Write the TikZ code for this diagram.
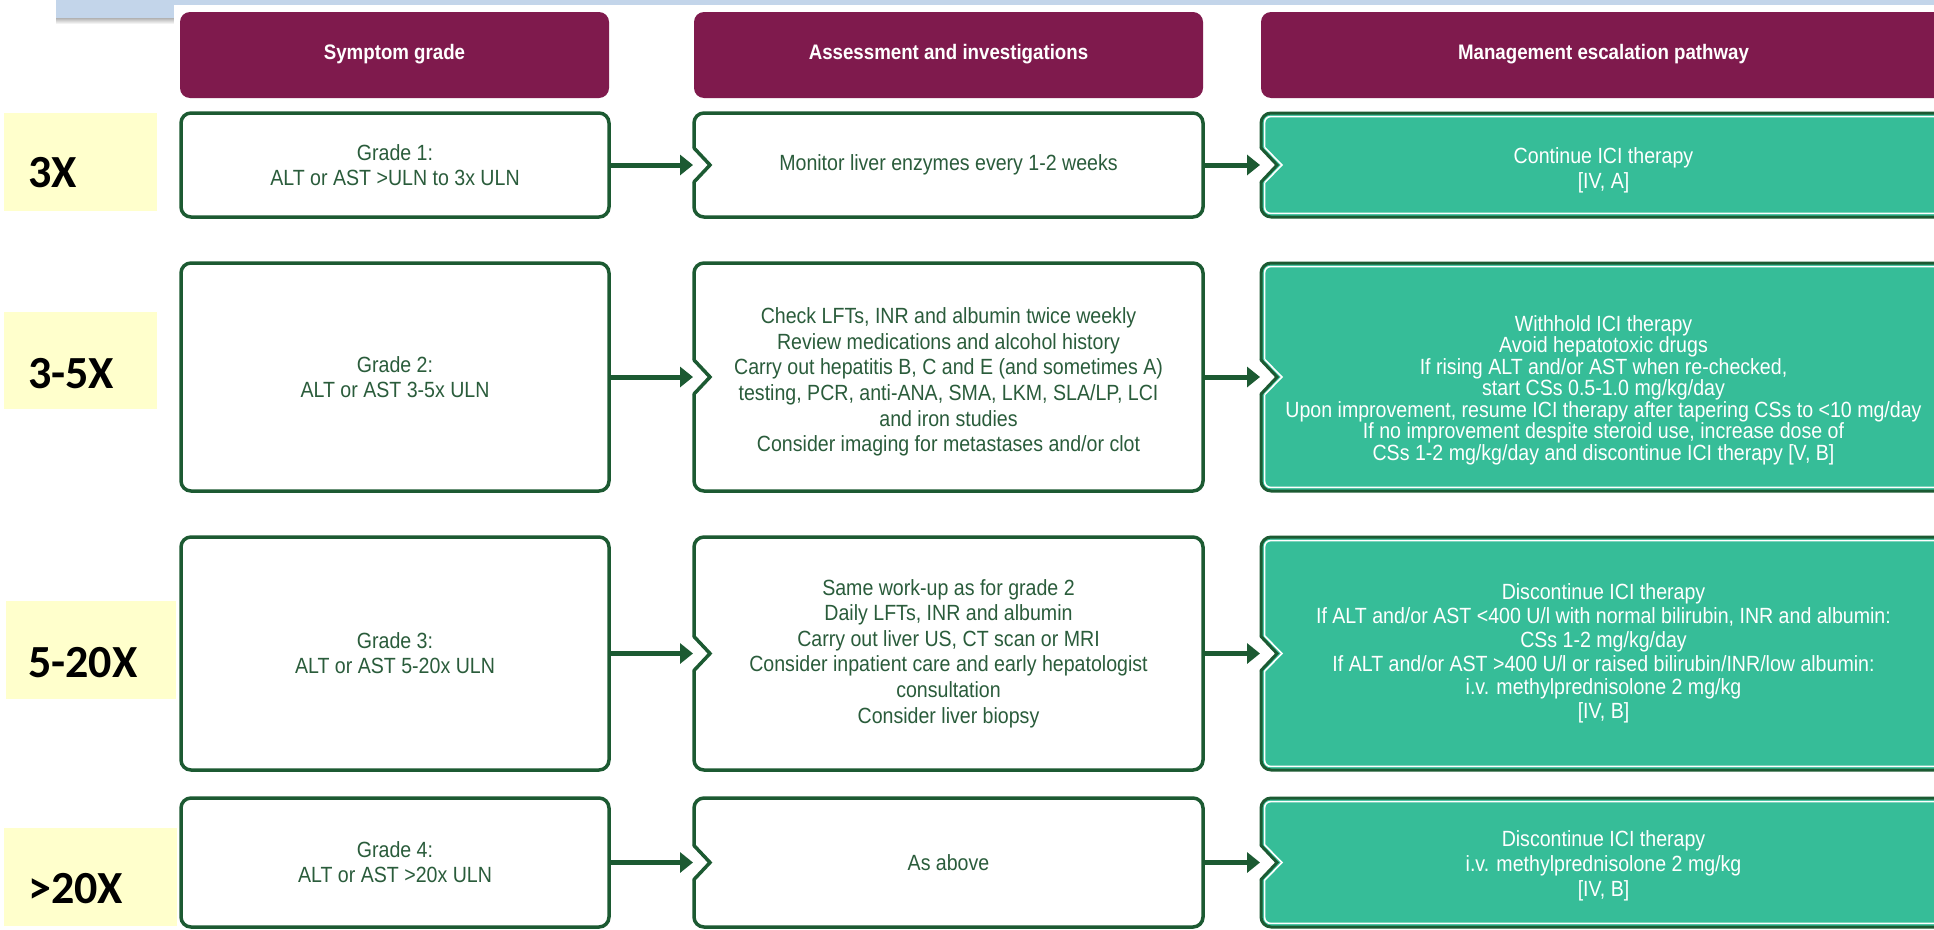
\documentclass[tikz,border=0pt]{standalone}
\usepackage{fontspec}
\setmainfont{Liberation Sans}[FakeStretch=0.89]
\newfontfamily\tagfont{Carlito}
\usetikzlibrary{arrows.meta}
\pgfdeclarelayer{base}
\pgfdeclarelayer{fills}
\pgfsetlayers{base,fills,main}

\definecolor{hdrmaroon}{HTML}{7F1A4D}
\definecolor{boxgreen}{HTML}{1C5A32}
\definecolor{boxtext}{HTML}{2A5C3B}
\definecolor{mgmtteal}{HTML}{36BD98}
\definecolor{tagyellow}{HTML}{FFFFCC}
\definecolor{barblue}{HTML}{C3D5EA}

% rounded frame with a V-notch in its left side
% #1 node, #2 fill colour, #3 line style
\newcommand\notchbox[3]{%
  \fill[#2, rounded corners=10pt] (#1.north west) rectangle (#1.south east);
  \fill[white] ([shift={(-0.5,-17)}]#1.west) -- ([shift={(16,0)}]#1.west)
    -- ([shift={(-0.5,17)}]#1.west) -- cycle;
  \draw[#3, rounded corners=10pt] ([shift={(0,17)}]#1.west)
    -- (#1.south west) -- (#1.south east)
    -- (#1.north east) -- (#1.north west)
    -- ([shift={(0,-17)}]#1.west);
  \draw[#3, line join=miter] ([shift={(0,-17)}]#1.west)
    -- ([shift={(16,0)}]#1.west) -- ([shift={(0,17)}]#1.west);}

% white work-up frame and teal management frame around a named node
\newcommand\workframe[1]{%
  \begin{pgfonlayer}{fills}
    \notchbox{#1}{white}{draw=boxgreen, line width=3.5pt, line cap=round}
  \end{pgfonlayer}}
\newcommand\mgmtframe[1]{%
  \begin{pgfonlayer}{fills}
    \notchbox{#1}{mgmtteal}{draw=boxgreen, line width=3pt, line cap=round}
    \draw[white, line width=1.6pt, rounded corners=6pt]
      ([shift={(3.6,17.6)}]#1.west)
      -- ([shift={(3.6,-3.6)}]#1.south west)
      -- ([shift={(-3.6,-3.6)}]#1.south east)
      -- ([shift={(-3.6,3.6)}]#1.north east)
      -- ([shift={(3.6,3.6)}]#1.north west)
      -- ([shift={(3.6,-17.6)}]#1.west);
    \draw[white, line width=1.6pt, line join=miter]
      ([shift={(3.6,-17.6)}]#1.west) -- ([shift={(21,0)}]#1.west)
      -- ([shift={(3.6,17.6)}]#1.west);
  \end{pgfonlayer}}

\begin{document}
\begin{tikzpicture}[x=1pt,y=-1pt,
  txt/.style={font=\fontsize{22}{25}\selectfont, align=center,
    inner sep=0pt, outer sep=0pt},
  hdr/.style={txt, font=\fontsize{21}{24}\selectfont\bfseries,
    fill=hdrmaroon, text=white, rounded corners=10pt, minimum height=86},
  gradebox/.style={txt, draw=boxgreen, line width=3.5pt, fill=white,
    rounded corners=10pt, text=boxtext},
  workbox/.style={txt, text=boxtext},
  mgmtbox/.style={txt, text=white},
  flow/.style={draw=boxgreen, line width=5pt,
    -{Triangle[length=13pt,width=20pt]}, shorten >=1pt},
  tagtext/.style={font=\tagfont\bfseries\fontsize{46}{46}\selectfont,
    anchor=base west, inner sep=0pt},
]
\useasboundingbox (0,0) rectangle (1934,929);

% page, title bar and slide panel
\begin{pgfonlayer}{base}
  \fill[white] (0,0) rectangle (1934,929);
  \fill[barblue] (56,0) rectangle (1934,18);
  \shade[top color=black!30, bottom color=white] (56,18) rectangle (174,24);
  \fill[white] (174,5) rectangle (1934,929);
\end{pgfonlayer}

% column headers
\node[hdr, minimum width=429] (h1) at (394.5,55) {\strut Symptom grade};
\node[hdr, minimum width=509] (h2) at (948.5,55) {\strut Assessment and investigations};
\node[hdr, minimum width=685] (h3) at (1603.5,55) {\strut Management escalation pathway};

% ULN tags
\fill[tagyellow] (4,113) rectangle (157,211);
\node[tagtext] (t1) at (28,187) {3X};
\fill[tagyellow] (4,312) rectangle (157,409);
\node[tagtext] (t2) at (28,388) {3-5X};
\fill[tagyellow] (6,601) rectangle (176,699);
\node[tagtext] (t3) at (28,677) {5-20X};
\fill[tagyellow] (4,828) rectangle (177,926);
\node[tagtext] (t4) at (28,903) {>20X};

% grade 1
\node[gradebox, minimum width=428, minimum height=104] (g1) at (395,165)
  {Grade 1:\\ALT or AST >ULN to 3x ULN};
\node[workbox, minimum width=509, minimum height=104] (a1) at (948.5,165)
  {Monitor liver enzymes every 1-2 weeks};
\node[mgmtbox, minimum width=685, minimum height=104] (m1) at (1603.5,165) {};
\node[mgmtbox] (m1t) at ([yshift=-5pt]m1.center)
  {Continue ICI therapy\\{[IV, A]}};

% grade 2
\node[gradebox, minimum width=428, minimum height=228] (g2) at (395,377)
  {Grade 2:\\ALT or AST 3-5x ULN};
\node[workbox, minimum width=509, minimum height=228] (a2) at (948.5,377) {};
\node[workbox, font=\fontsize{22}{25.6}\selectfont] (a2t)
  at ([yshift=-5pt]a2.center)
  {Check LFTs, INR and albumin twice weekly\\
   Review medications and alcohol history\\
   Carry out hepatitis B, C and E (and sometimes A)\\
   testing, PCR, anti-ANA, SMA, LKM, SLA/LP, LCI\\
   and iron studies\\
   Consider imaging for metastases and/or clot};
\node[mgmtbox, minimum width=685, minimum height=228] (m2) at (1603.5,377) {};
\node[mgmtbox, font=\fontsize{22}{20.5}\selectfont] (m2t)
  at ([yshift=-13pt]m2.center)
  {Withhold ICI therapy\\
   Avoid hepatotoxic drugs\\
   If rising ALT and/or AST when re-checked,\\
   start CSs 0.5-1.0 mg/kg/day\\
   Upon improvement, resume ICI therapy after tapering CSs to <10 mg/day\\
   If no improvement despite steroid use, increase dose of\\
   CSs 1-2 mg/kg/day and discontinue ICI therapy [V, B]};

% grade 3
\node[gradebox, minimum width=428, minimum height=233] (g3) at (395,653.5)
  {Grade 3:\\ALT or AST 5-20x ULN};
\node[workbox, minimum width=509, minimum height=233,
  font=\fontsize{22}{25.6}\selectfont] (a3) at (948.5,653.5)
  {Same work-up as for grade 2\\
   Daily LFTs, INR and albumin\\
   Carry out liver US, CT scan or MRI\\
   Consider inpatient care and early hepatologist\\
   consultation\\
   Consider liver biopsy};
\node[mgmtbox, minimum width=685, minimum height=233,
  font=\fontsize{22}{23.7}\selectfont] (m3) at (1603.5,653.5)
  {Discontinue ICI therapy\\
   If ALT and/or AST <400 U/l with normal bilirubin, INR and albumin:\\
   CSs 1-2 mg/kg/day\\
   If ALT and/or AST >400 U/l or raised bilirubin/INR/low albumin:\\
   i.v. methylprednisolone 2 mg/kg\\
   {[IV, B]}};

% grade 4
\node[gradebox, minimum width=428, minimum height=129] (g4) at (395,862.5)
  {Grade 4:\\ALT or AST >20x ULN};
\node[workbox, minimum width=509, minimum height=129] (a4) at (948.5,862.5)
  {As above};
\node[mgmtbox, minimum width=685, minimum height=129] (m4) at (1603.5,862.5) {};
\node[mgmtbox] (m4t) at ([yshift=-3pt]m4.center)
  {Discontinue ICI therapy\\
   i.v. methylprednisolone 2 mg/kg\\
   {[IV, B]}};

% notched frames
\workframe{a1}\workframe{a2}\workframe{a3}\workframe{a4}
\mgmtframe{m1}\mgmtframe{m2}\mgmtframe{m3}\mgmtframe{m4}

% escalation arrows
\foreach \r in {1,2,3,4} {
  \draw[flow] (g\r) -- (a\r);
  \draw[flow] (a\r) -- (m\r);
}
\end{tikzpicture}
\end{document}
